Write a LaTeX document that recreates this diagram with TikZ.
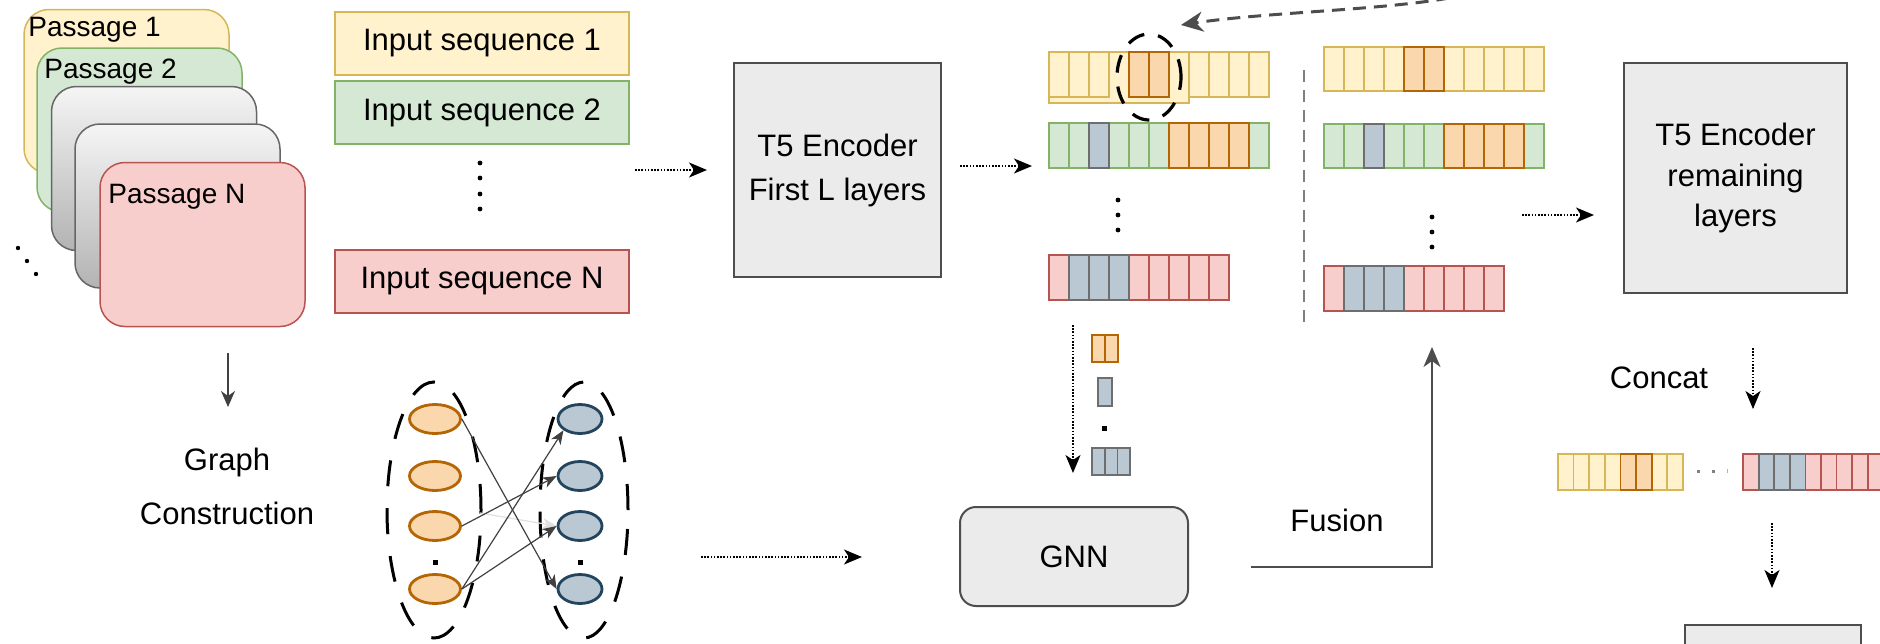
\documentclass[tikz,border=0pt]{standalone}
\usepackage{fontspec}
\setmainfont{Liberation Sans}
\usetikzlibrary{arrows.meta,shapes.geometric}
\definecolor{yfill}{HTML}{FFF2CC}\definecolor{ydraw}{HTML}{D6B656}
\definecolor{gfill}{HTML}{D5E8D4}\definecolor{gdraw}{HTML}{82B366}
\definecolor{rfill}{HTML}{F8CECC}\definecolor{rdraw}{HTML}{B85450}
\definecolor{ofill}{HTML}{FAD7AC}\definecolor{odraw}{HTML}{B46504}
\definecolor{bfill}{HTML}{BAC8D3}\definecolor{bdraw}{HTML}{23445D}
\definecolor{bcell}{HTML}{6E6E6E}
\definecolor{boxfill}{HTML}{EBEBEB}\definecolor{boxdraw}{HTML}{4D4D4D}
\definecolor{gtop}{HTML}{F5F5F5}\definecolor{gbot}{HTML}{B3B3B3}\definecolor{gdr}{HTML}{666666}
\definecolor{arrgray}{HTML}{4D4D4D}\definecolor{edgegray}{HTML}{404040}
\tikzset{
  lbl/.style={font=\fontsize{14}{16.8}\selectfont},
  txt/.style={font=\fontsize{15.5}{18.6}\selectfont},
  passage/.style={draw, rounded corners=12.5pt, minimum width=102.5pt, minimum height=82pt, line width=0.75pt},
  grayp/.style={passage, top color=gtop, bottom color=gbot, draw=gdr},
  seqbox/.style={draw, line width=1pt, minimum width=147pt, minimum height=31.5pt, txt},
  encbox/.style={fill=boxfill, draw=boxdraw, line width=1pt, align=center},
  dotarrow/.style={line width=0.8pt, dash pattern=on 0.8pt off 0.8pt, -{Stealth[length=9pt,width=7.5pt,inset=2.5pt]}},
  gedge/.style={draw=edgegray, line width=0.6pt, -{Stealth[length=7pt,width=5.5pt,inset=2pt,fill=edgegray]}},
  onode/.style={ellipse, draw=odraw, fill=ofill, line width=1.4pt, minimum width=25.5pt, minimum height=14.5pt},
  bnode/.style={ellipse, draw=bdraw, fill=bfill, line width=1.4pt, minimum width=22pt, minimum height=14.5pt},
  grp/.style={ellipse, draw=black, line width=1.5pt, dash pattern=on 13pt off 11pt},
  cell-y/.style={fill=yfill, draw=ydraw, line width=0.75pt},
  cell-g/.style={fill=gfill, draw=gdraw, line width=0.75pt},
  cell-r/.style={fill=rfill, draw=rdraw, line width=0.75pt},
  cell-o/.style={fill=ofill, draw=odraw, line width=0.9pt},
  cell-b/.style={fill=bfill, draw=bcell, line width=0.9pt},
}
% x0, y0, cell width, height, list of cell colours
\newcommand\vrow[5]{%
  \foreach \c [count=\i from 0] in {#5} {%
    \if n\c\else\if o\c\else\if b\c\else
      \path[cell-\c] ({#1+\i*#3},#2) rectangle ++(#3,#4);
    \fi\fi\fi}%
  \foreach \c [count=\i from 0] in {#5} {%
    \if o\c \path[cell-o] ({#1+\i*#3},#2) rectangle ++(#3,#4);\fi
    \if b\c \path[cell-b] ({#1+\i*#3},#2) rectangle ++(#3,#4);\fi}%
}
\begin{document}
\begin{tikzpicture}[x=0.5pt,y=-0.5pt, every node/.style={inner sep=0pt}]
\useasboundingbox (0,0) rectangle (1880,643);
\clip (0,0) rectangle (1880,643);

% passages
\node[passage, fill=yfill, draw=ydraw] (p1) at (126.5,91.5) {};
\node[lbl, anchor=west] (p1l) at (28,30) {Passage 1};
\node[passage, fill=gfill, draw=gdraw] (p2) at (139.5,130) {};
\node[lbl, anchor=west] (p2l) at (44,72) {Passage 2};
\node[grayp] (g1) at (154,168.5) {};
\node[grayp] (g2) at (177.5,206) {};
\node[passage, fill=rfill, draw=rdraw] (pn) at (202.5,244.5) {};
\node[lbl, anchor=west] (pnl) at (108,197) {Passage N};
\foreach \p in {(18,248),(27,261),(36,274)} \fill \p circle (1.1pt);

% input sequences
\node[seqbox, fill=yfill, draw=ydraw] (s1) at (482,43.5) {Input sequence 1};
\node[seqbox, fill=gfill, draw=gdraw] (s2) at (482,112.5) {Input sequence 2};
\node[seqbox, fill=rfill, draw=rdraw] (sn) at (482,281) {Input sequence N};
\foreach \yy in {163,178,194,209} \fill (480,\yy) circle (1.2pt);

% encoder first L
\coordinate (a1s) at (635,170); \coordinate (a1e) at (707,170);
\draw[dotarrow] (a1s) -- (a1e);
\node[encbox, minimum width=103.5pt, minimum height=107pt, font=\fontsize{15.5}{22}\selectfont] (t5a) at (837.5,170) {T5 Encoder\\First L layers};
\coordinate (a2s) at (960,166); \coordinate (a2e) at (1032,166);
\draw[dotarrow] (a2s) -- (a2e);

% vectors, column 1
\path[cell-y] (1049,52) rectangle (1189,103);
\vrow{1049}{52}{20}{45}{y,y,y,n,o,o,n,y,y,y,y}
\vrow{1049}{123}{20}{45}{g,g,b,g,g,g,o,o,o,o,g}
\vrow{1049}{255}{20}{45}{r,b,b,b,r,r,r,r,r}
\foreach \yy in {200,215,230} \fill (1118,\yy) circle (1.2pt);
\node[ellipse, draw=black, line width=1.6pt, dash pattern=on 9pt off 7pt, minimum width=32pt, minimum height=43pt] (hl) at (1149,77) {};
\coordinate (cs) at (1490,-12); \coordinate (ct) at (1181,25);
\draw[draw=arrgray, line width=1.5pt, dash pattern=on 6.5pt off 4pt, -{Stealth[length=11pt,width=10pt,inset=3.5pt,fill=arrgray]}] (cs) .. controls (1430,10) and (1280,10) .. (ct);

% separator
\coordinate (vd1) at (1304,70); \coordinate (vd2) at (1304,323);
\draw[draw=gray, line width=1pt, dash pattern=on 6pt off 4pt] (vd1) -- (vd2);

% vectors, column 2
\vrow{1324}{47}{20}{44}{y,y,y,y,o,o,y,y,y,y,y}
\vrow{1324}{124}{20}{44}{g,g,b,g,g,g,o,o,o,o,g}
\vrow{1324}{266}{20}{45}{r,b,b,b,r,r,r,r,r}
\foreach \yy in {217,232,247} \fill (1432,\yy) circle (1.2pt);

% encoder remaining
\coordinate (a3s) at (1522,215); \coordinate (a3e) at (1594,215);
\draw[dotarrow] (a3s) -- (a3e);
\node[encbox, minimum width=111.5pt, minimum height=115pt, font=\fontsize{15.5}{20.25}\selectfont] (t5b) at (1735.5,178) {T5 Encoder\\remaining\\layers};

% graph construction
\coordinate (a4s) at (228,353); \coordinate (a4e) at (228,407);
\draw[draw=edgegray, line width=0.8pt, -{Stealth[length=8pt,width=7pt,inset=2.5pt,fill=edgegray]}] (a4s) -- (a4e);
\node[txt, align=center, font=\fontsize{15.5}{27}\selectfont] (gc) at (227,486) {Graph\\Construction};

\node[grp, minimum width=47pt, minimum height=128pt] (gl) at (434,510) {};
\node[grp, minimum width=44pt, minimum height=128pt] (gr) at (584,510) {};
\node[onode] (o1) at (435,419) {};
\node[onode] (o2) at (435,476) {};
\node[onode] (o3) at (435,526) {};
\node[onode] (o4) at (435,589) {};
\node[bnode] (b1) at (580,419) {};
\node[bnode] (b2) at (580,476) {};
\node[bnode] (b3) at (580,526) {};
\node[bnode] (b4) at (580,589) {};
\fill (432.5,559.5) rectangle (437.5,564.5);
\fill (577.5,559.5) rectangle (582.5,564.5);
\draw[gedge, draw=black!12, -{Stealth[length=7pt,width=5.5pt,inset=2pt,fill=black!12]}] ([shift={(18,-13)}]o3.east) -- (b3.west);
\draw[gedge] (o1.east) -- (b4.west);
\draw[gedge] (o3.east) -- (b2.west);
\draw[gedge] (o4.east) -- (b1.south west);
\draw[gedge] (o4.east) -- (b3.west);

% to GNN
\coordinate (a5s) at (701,557); \coordinate (a5e) at (862,557);
\draw[dotarrow] (a5s) -- (a5e);
\coordinate (a6s) at (1073,325); \coordinate (a6e) at (1073,473);
\draw[dotarrow] (a6s) -- (a6e);
\vrow{1092}{335}{13}{27}{o,o}
\vrow{1098}{378}{14}{28}{b}
\fill (1101.5,425.5) rectangle (1106.5,430.5);
\vrow{1092}{448}{12.7}{27}{b,b,b}
\node[encbox, rounded corners=8pt, minimum width=114pt, minimum height=49.5pt, txt] (gnn) at (1074,556.5) {GNN};

% fusion
\coordinate (fs) at (1251,567); \coordinate (fe) at (1432,347);
\draw[draw=arrgray, line width=1pt, -{Stealth[length=10pt,width=8.5pt,inset=3pt,fill=arrgray]}] (fs) -| (fe);
\node[txt] (fus) at (1337,520) {Fusion};

% concat
\node[txt] (cc) at (1659,378) {Concat};
\coordinate (a7s) at (1753,348); \coordinate (a7e) at (1753,409);
\draw[dotarrow] (a7s) -- (a7e);
\vrow{1558}{454}{15.6}{36}{y,y,y,y,o,o,y,y}
\foreach \xx in {1698,1713} \fill[gray] (\xx-1.5,469.5) rectangle (\xx+1.5,472.5);
\fill[gray!60] (1726.5,469) rectangle (1727.5,473);
\vrow{1743}{454}{15.6}{36}{r,b,b,b,r,r,r,r,r}
\coordinate (a8s) at (1772,523); \coordinate (a8e) at (1772,588);
\draw[dotarrow] (a8s) -- (a8e);
\node[encbox, anchor=north, minimum width=88pt, minimum height=40pt] (dec) at (1773,624) {};
\end{tikzpicture}
\end{document}
